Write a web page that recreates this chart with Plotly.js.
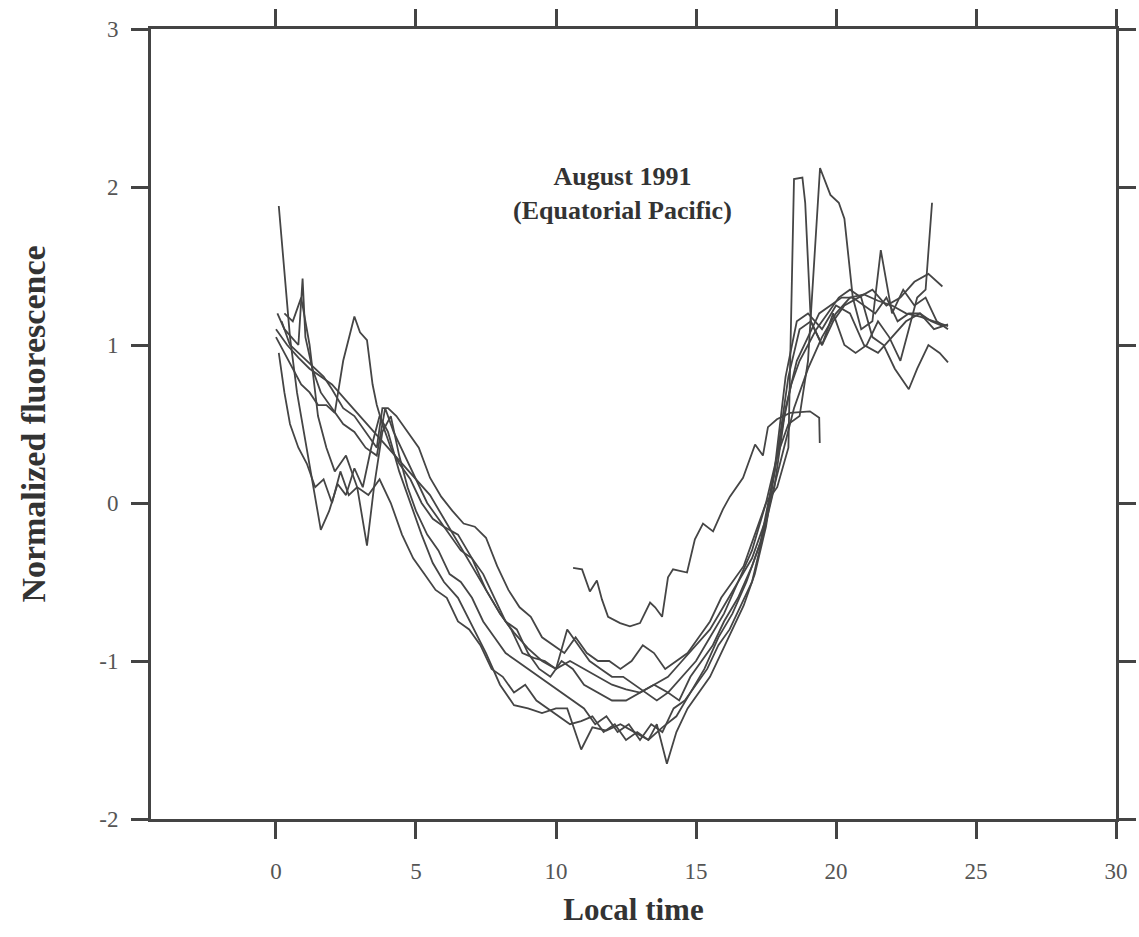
<!DOCTYPE html>
<html><head><meta charset="utf-8">
<script src="https://cdn.plot.ly/plotly-3.0.1.min.js"></script>
<style>html,body{margin:0;padding:0;background:#fff}#chart{width:1139px;height:937px}</style>
</head><body><div id="chart"></div>
<script>
// Local time (h) and normalized fluorescence for each profile
const xA = [0.1,0.3,0.5,0.75,1.0,1.3,1.6,1.9,2.2,2.5,2.8,3.1,3.4,3.7,4.0,4.4,4.8,5.2,5.6,6.0,6.5,7.0,7.5,8.0,8.5,9.0,9.5,10.0,10.4,10.9,11.3,11.8,12.3,12.8,13.3,13.8,14.3,14.8,15.3,15.8,16.3,16.8,17.3,17.8,18.2,18.6,19.0,19.5,20.0,20.5,21.0,21.5,22.0,22.5,23.0,23.5,24.0];
const yA = [1.88,1.45,1.05,0.7,0.45,0.15,-0.17,-0.05,0.12,0.05,0.22,0.1,0.35,0.55,0.45,0.2,0.0,-0.2,-0.38,-0.5,-0.6,-0.78,-0.95,-1.15,-1.28,-1.3,-1.33,-1.3,-1.3,-1.56,-1.42,-1.44,-1.4,-1.45,-1.5,-1.42,-1.35,-1.2,-1.05,-0.85,-0.7,-0.5,-0.25,0.2,0.8,1.15,1.2,1.1,1.25,1.2,1.0,0.95,1.05,1.15,1.2,1.1,1.13];

const xB = [0.05,0.3,0.55,0.8,0.95,1.05,1.3,1.6,2.0,2.4,2.8,3.2,3.6,3.9,4.2,4.6,5.0,5.4,5.8,6.2,6.6,7.0,7.4,7.8,8.2,8.6,9.0,9.4,9.8,10.2,10.6,11.0,11.5,12.0,12.5,13.0,13.5,14.0,14.5,15.0,15.5,16.0,16.5,17.0,17.5,17.9,18.3,18.5,18.8,18.9,19.1,19.5,19.9,20.3,20.8,21.3,21.8,22.3,22.8,23.3,23.8];
const yB = [1.2,1.1,1.05,1.0,1.42,1.05,0.85,0.7,0.6,0.5,0.45,0.35,0.3,0.6,0.45,0.3,0.15,0.0,-0.1,-0.2,-0.3,-0.35,-0.45,-0.6,-0.75,-0.8,-0.95,-1.05,-1.1,-1.0,-1.05,-1.15,-1.2,-1.25,-1.25,-1.2,-1.15,-1.2,-1.1,-1.0,-0.85,-0.7,-0.5,-0.3,0.0,0.1,0.35,2.05,2.06,1.9,1.15,1.0,1.15,1.25,1.3,1.35,1.25,1.3,1.4,1.45,1.37];

const xC = [0.0,0.3,0.6,0.9,1.2,1.5,1.8,2.1,2.4,2.6,2.8,3.0,3.25,3.45,3.6,3.8,4.1,4.4,4.8,5.2,5.6,6.0,6.5,7.0,7.5,8.0,8.4,8.8,9.2,9.6,10.0,10.4,10.8,11.2,11.6,12.0,12.4,12.8,13.2,13.6,14.0,14.4,14.8,15.2,15.6,16.0,16.5,17.0,17.4,17.8,18.2,18.6,19.0,19.4,19.8,20.2,20.6,21.0,21.4,21.8,22.2,22.6,23.0,23.4,23.8];
const yC = [1.05,0.95,0.85,0.75,0.7,0.62,0.62,0.57,0.9,1.05,1.18,1.08,1.03,0.75,0.62,0.5,0.35,0.25,0.15,0.0,-0.1,-0.15,-0.2,-0.35,-0.55,-0.7,-0.8,-0.95,-0.98,-1.0,-1.05,-0.8,-0.9,-1.0,-1.05,-1.1,-1.1,-1.15,-1.2,-1.25,-1.2,-1.25,-1.1,-1.0,-0.9,-0.75,-0.6,-0.4,-0.2,0.1,0.6,0.9,1.05,1.2,1.25,1.3,1.3,1.25,1.2,1.3,1.15,1.2,1.2,1.15,1.12];

const xD = [0.1,0.3,0.5,0.8,1.1,1.4,1.7,2.0,2.3,2.6,2.9,3.25,3.5,3.8,4.1,4.4,4.7,5.0,5.4,5.8,6.2,6.6,7.0,7.4,7.8,8.2,8.6,9.0,9.4,9.8,10.2,10.6,11.0,11.4,11.8,12.2,12.6,13.0,13.4,13.8,14.2,14.6,15.0,15.4,15.8,16.2,16.6,17.0,17.4,17.8,18.1,18.4,18.7,19.0,19.3,19.7,20.1,20.5,20.9,21.3,21.7,22.1,22.6,22.9,23.3,23.7,24.0];
const yD = [0.95,0.7,0.5,0.35,0.25,0.1,0.15,0.0,0.2,0.05,0.1,-0.27,0.1,0.45,0.55,0.3,0.1,-0.05,-0.2,-0.3,-0.45,-0.5,-0.6,-0.75,-0.85,-0.95,-1.0,-1.05,-1.1,-1.15,-1.2,-1.25,-1.3,-1.4,-1.35,-1.45,-1.4,-1.5,-1.4,-1.45,-1.3,-1.25,-1.15,-1.05,-0.9,-0.8,-0.65,-0.5,-0.2,0.2,0.5,0.75,0.9,1.0,1.1,1.2,1.3,1.35,1.3,1.05,1.0,0.85,0.72,0.85,1.0,0.95,0.89];

const xE = [0.0,0.4,0.8,1.2,1.6,2.0,2.5,3.0,3.5,4.0,4.5,5.0,5.5,6.0,6.5,7.0,7.5,8.0,8.5,9.0,9.5,10.0,10.5,11.0,11.5,12.0,12.5,13.0,13.5,14.0,14.5,15.0,15.5,16.0,16.5,17.0,17.5,18.0,18.5,19.0,19.5,20.0,20.5,21.0,21.5,22.0,22.5,23.0,23.5,24.0];
const yE = [1.1,1.0,0.92,0.85,0.8,0.75,0.65,0.55,0.45,0.35,0.25,0.15,0.05,-0.1,-0.25,-0.4,-0.55,-0.7,-0.82,-0.92,-1.0,-1.05,-1.0,-1.05,-1.1,-1.15,-1.18,-1.2,-1.15,-1.1,-1.0,-0.9,-0.8,-0.65,-0.5,-0.35,-0.1,0.25,0.6,0.85,1.05,1.2,1.3,1.32,1.28,1.25,1.2,1.18,1.15,1.12];

const xF = [10.61,10.93,11.21,11.46,11.64,11.86,12.29,12.64,13.0,13.36,13.54,13.79,14.0,14.18,14.68,14.96,15.25,15.61,15.96,16.21,16.68,17.11,17.39,17.57,17.89,18.36,19.07,19.4,19.42];
const yF = [-0.41,-0.42,-0.56,-0.49,-0.61,-0.72,-0.76,-0.78,-0.76,-0.63,-0.66,-0.72,-0.47,-0.42,-0.44,-0.23,-0.13,-0.18,-0.04,0.04,0.16,0.37,0.30,0.48,0.53,0.57,0.58,0.54,0.38];

const xH = [0.2,0.5,0.8,1.1,1.4,1.7,2.0,2.4,2.8,3.2,3.6,3.8,4.0,4.3,4.7,5.1,5.5,5.9,6.3,6.7,7.1,7.5,7.9,8.3,8.7,9.1,9.5,9.9,10.3,10.7,11.1,11.5,11.9,12.3,12.7,13.1,13.5,13.9,14.3,14.7,15.1,15.5,15.9,16.3,16.7,17.1,17.5,17.9,18.3,18.7,19.0,19.43,19.8,20.1,20.3,20.6,20.9,21.3,21.6,22.0,22.4,22.8,23.2,23.6,24.0];
const yH = [1.15,1.0,0.95,0.9,0.85,0.8,0.72,0.6,0.55,0.45,0.35,0.6,0.6,0.55,0.45,0.35,0.16,0.04,-0.05,-0.13,-0.15,-0.22,-0.4,-0.55,-0.66,-0.72,-0.85,-0.9,-0.95,-0.85,-0.95,-1.0,-1.0,-1.05,-1.0,-0.9,-0.95,-1.05,-1.0,-0.95,-0.85,-0.75,-0.6,-0.5,-0.4,-0.2,0.0,0.3,0.5,0.55,0.9,2.12,1.95,1.9,1.8,1.3,1.1,1.15,1.6,1.2,1.35,1.25,1.3,1.15,1.1];

const xI = [0.3,0.6,0.9,1.2,1.5,1.8,2.1,2.5,2.9,3.3,3.7,4.1,4.5,4.9,5.3,5.7,6.1,6.5,6.9,7.3,7.7,8.1,8.5,8.9,9.3,9.7,10.1,10.5,10.9,11.3,11.7,12.1,12.5,12.9,13.3,13.6,13.96,14.3,14.7,15.1,15.5,15.9,16.3,16.7,17.1,17.5,17.9,18.3,18.7,19.1,19.5,19.9,20.3,20.7,21.1,21.5,21.9,22.3,22.6,22.9,23.2,23.43];
const yI = [1.2,1.15,1.3,1.0,0.55,0.35,0.2,0.3,0.1,0.05,0.15,0.0,-0.2,-0.35,-0.45,-0.55,-0.6,-0.75,-0.8,-0.9,-1.05,-1.1,-1.2,-1.15,-1.25,-1.3,-1.35,-1.4,-1.38,-1.35,-1.45,-1.4,-1.5,-1.45,-1.5,-1.4,-1.65,-1.45,-1.3,-1.2,-1.1,-0.95,-0.8,-0.65,-0.45,-0.15,0.3,0.8,1.1,1.15,1.0,1.2,1.0,0.95,1.0,1.15,1.05,0.9,1.1,1.3,1.35,1.9];

const xTicks = [0,5,10,15,20,25,30];
const yTicks = [-2,-1,0,1,2,3];
const titleLines = ["August 1991", "(Equatorial Pacific)"];

const series = [[xA,yA],[xB,yB],[xC,yC],[xD,yD],[xE,yE],[xF,yF],[xH,yH],[xI,yI]];
const traces = series.map(s => ({
  x: s[0], y: s[1], type: 'scatter', mode: 'lines',
  line: {color: '#454545', width: 1.8}, hoverinfo: 'skip'
}));

const serif = 'Liberation Serif, Times New Roman, serif';
const axisCommon = {
  showline: true, linecolor: '#444', linewidth: 3, mirror: 'allticks',
  ticks: 'outside', ticklen: 17, tickwidth: 3, tickcolor: '#444',
  showgrid: false, zeroline: false,
  tickfont: {family: serif, size: 23, color: '#555'}
};

const layout = {
  width: 1139, height: 937,
  margin: {l: 151, r: 23, t: 29, b: 118},
  paper_bgcolor: '#fff', plot_bgcolor: '#fff',
  showlegend: false,
  xaxis: Object.assign({}, axisCommon, {
    range: [-4.464, 30], tickvals: xTicks, ticktext: xTicks.map(String),
    ticklabelstandoff: 12,
    title: {text: '<b>Local time</b>', font: {family: serif, size: 31, color: '#333'}, standoff: 16}
  }),
  yaxis: Object.assign({}, axisCommon, {
    range: [-2, 3], tickvals: yTicks, ticktext: yTicks.map(String),
    ticklabelstandoff: 8,
    title: {text: '<b>Normalized fluorescence</b>', font: {family: serif, size: 34, color: '#333'}, standoff: 44}
  }),
  annotations: [{
    x: 12.36, y: 1.96, xref: 'x', yref: 'y', showarrow: false,
    text: '<b>' + titleLines.join('<br>') + '</b>',
    font: {family: serif, size: 26, color: '#333'}, align: 'center'
  }]
};

Plotly.newPlot('chart', traces, layout, {staticPlot: true, displayModeBar: false});
</script>
</body></html>
